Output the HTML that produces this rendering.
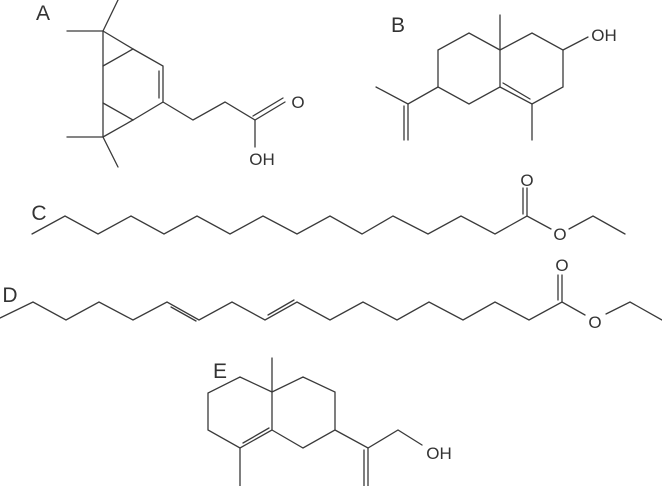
<!DOCTYPE html>
<html><head><meta charset="utf-8"><style>
html,body{margin:0;padding:0;background:#fff;}
svg{display:block;}
text{font-family:"Liberation Sans",sans-serif;fill:#333;}
</style></head><body>
<svg width="662" height="486" viewBox="0 0 662 486" xmlns="http://www.w3.org/2000/svg">
<g stroke="#3a3a3a" stroke-width="1.3" fill="none" stroke-linecap="round">
<!-- A -->
<polyline points="67,31 103,31 118,0"/>
<line x1="103" y1="31" x2="103" y2="137"/>
<polyline points="103,31 133,49 103,66"/>
<polyline points="133,49 163,66 163,102 133,120"/>
<line x1="159" y1="71" x2="159" y2="98"/>
<polyline points="103,103 133,120 103,137"/>
<polyline points="67,137 103,137 118,167"/>
<polyline points="163,102 193,120 225,102 255,120 285,102"/>
<line x1="253" y1="116" x2="283" y2="98"/>
<line x1="255" y1="120" x2="255" y2="147"/>
<!-- B -->
<line x1="500" y1="50" x2="500" y2="15"/>
<polyline points="500,50 469,33 438,50 438,87 469,104 500,87 500,50"/>
<polyline points="500,50 532,33 563,50 563,87 532,104 500,87"/>
<line x1="503" y1="83" x2="530" y2="99"/>
<line x1="532" y1="104" x2="532" y2="140"/>
<line x1="563" y1="50" x2="588" y2="37"/>
<polyline points="438,87 408,104 376,87"/>
<line x1="408" y1="104" x2="408" y2="140"/>
<line x1="404" y1="106" x2="404" y2="140"/>
<!-- C -->
<polyline points="32,234 65,216 98,234 131,216 164,234 197,216 230,234 263,216 297,234 330,216 362,234 393,216 428,234 461,216 495,234 527,216 551,229"/>
<line x1="527" y1="216" x2="527" y2="188"/>
<line x1="523" y1="214" x2="523" y2="188"/>
<polyline points="569,229 593,216 625,234"/>
<!-- D -->
<polyline points="0,318 33,302 66,320 99,302 133,320 167,302 199,320 232,302 265,320 297,302 330,320 363,302 397,320 429,302 463,320 495,302 529,320 562,302 585,315"/>
<line x1="171" y1="307" x2="196" y2="321"/>
<line x1="268" y1="315" x2="294" y2="300"/>
<line x1="562" y1="302" x2="562" y2="275"/>
<line x1="558" y1="300" x2="558" y2="275"/>
<polyline points="606,314 630,302 662,320"/>
<!-- E -->
<line x1="272" y1="392" x2="272" y2="358"/>
<polyline points="272,392 240,377 208,393 208,430 240,448 272,430 272,392"/>
<line x1="243" y1="443" x2="269" y2="428"/>
<line x1="240" y1="448" x2="240" y2="486"/>
<polyline points="272,392 303,377 335,392 335,430 303,448 272,430"/>
<polyline points="335,430 368,448 398,430 422,445"/>
<line x1="368" y1="448" x2="368" y2="486"/>
<line x1="364" y1="450" x2="364" y2="486"/>
</g>
<g font-size="17">
<text x="43" y="20" font-size="21" text-anchor="middle">A</text>
<text x="298" y="108" text-anchor="middle">O</text>
<text x="262" y="165" text-anchor="middle">OH</text>
<text x="398" y="32" font-size="21" text-anchor="middle">B</text>
<text x="604" y="41" text-anchor="middle">OH</text>
<text x="39" y="220" font-size="21" text-anchor="middle">C</text>
<text x="527" y="186" text-anchor="middle">O</text>
<text x="560" y="240" text-anchor="middle">O</text>
<text x="10" y="302" font-size="21" text-anchor="middle">D</text>
<text x="562" y="271" text-anchor="middle">O</text>
<text x="595" y="328" text-anchor="middle">O</text>
<text x="220" y="378" font-size="21" text-anchor="middle">E</text>
<text x="439" y="459" text-anchor="middle">OH</text>
</g>
</svg>
</body></html>
